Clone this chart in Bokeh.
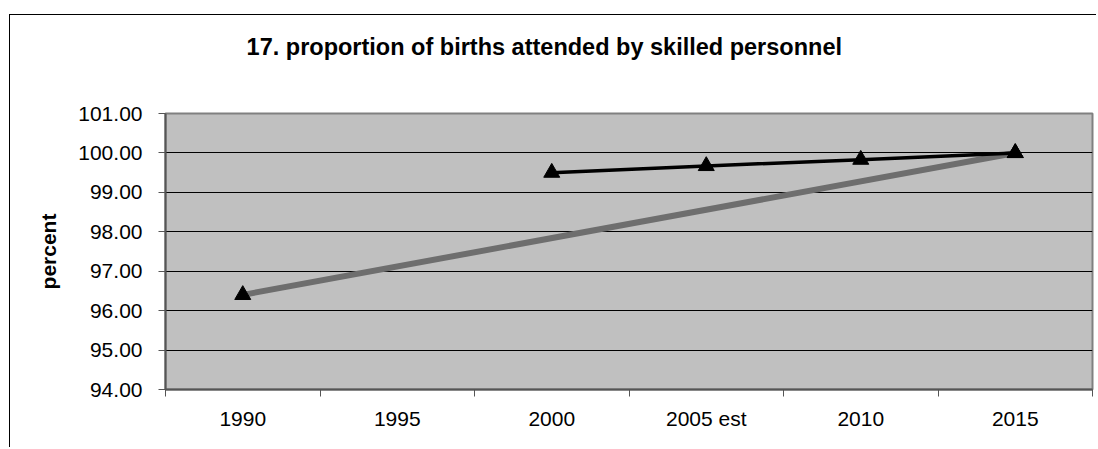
from bokeh.plotting import figure
from bokeh.layouts import column
from bokeh.models import FixedTicker, Range1d
from bokeh.core.properties import value
from bokeh.embed import file_html
from bokeh.resources import INLINE

categories = ["1990", "1995", "2000", "2005 est", "2010", "2015"]
target_years = ["1990", "2015"]
target_values = [96.4, 100.0]
actual_years = ["2000", "2005 est", "2010", "2015"]
actual_values = [99.5, 99.67, 99.83, 100.0]
y_ticks = [94, 95, 96, 97, 98, 99, 100, 101]
title_text = "17. proportion of births attended by skilled personnel"

pos = {c: i + 0.5 for i, c in enumerate(categories)}
tx = [pos[c] for c in target_years]
ax = [pos[c] for c in actual_years]

FONT = "Liberation Sans"
W = 1086

# ---- title strip (pixel-unit ranges) ----
TH = 83
t = figure(width=W, height=TH, output_backend="svg", toolbar_location=None,
           x_range=Range1d(0, W), y_range=Range1d(0, TH),
           x_axis_location=None, y_axis_location=None,
           min_border=0, min_border_left=0, min_border_right=0,
           min_border_top=0, min_border_bottom=0)
t.grid.visible = False
t.outline_line_color = None
t.background_fill_color = "white"
t.text(x=[95], y=[52], text=[title_text], text_font=value(FONT),
       text_font_size="23.5px", text_font_style="bold", text_color="black",
       text_align="left", text_baseline="alphabetic")

# ---- main chart ----
p = figure(width=W, height=349, output_backend="svg", toolbar_location=None,
           x_range=Range1d(0, len(categories)), y_range=Range1d(94, 101),
           min_border_left=155, min_border_right=4, min_border_top=15, min_border_bottom=58)

p.background_fill_color = "#C0C0C0"
p.border_fill_color = "white"
p.outline_line_color = "#808080"
p.outline_line_width = 2

# x axis: labels at category centres, ticks at category boundaries
p.xaxis.ticker = FixedTicker(ticks=[pos[c] for c in categories],
                             minor_ticks=list(range(len(categories) + 1)))
p.xaxis.major_label_overrides = {pos[c]: c for c in categories}
p.xaxis.major_tick_out = 0
p.xaxis.major_tick_in = 0
p.xaxis.minor_tick_out = 7
p.xaxis.minor_tick_in = 0
p.xaxis.minor_tick_line_color = "#555555"
p.xaxis.major_label_standoff = 10
p.xaxis.major_label_text_font = FONT
p.xaxis.major_label_text_font_size = "21px"
p.xaxis.major_label_text_color = "black"
p.xaxis.axis_line_color = "#555555"
p.xaxis.axis_line_width = 2

p.yaxis.ticker = FixedTicker(ticks=y_ticks, minor_ticks=[])
p.yaxis.major_label_overrides = {t_: f"{t_:.2f}" for t_ in y_ticks}
p.yaxis.major_tick_out = 7
p.yaxis.major_tick_in = 0
p.yaxis.major_tick_line_color = "#555555"
p.yaxis.major_label_standoff = 16
p.yaxis.major_label_text_font = FONT
p.yaxis.major_label_text_font_size = "21px"
p.yaxis.major_label_text_color = "black"
p.yaxis.axis_line_color = "#555555"
p.yaxis.axis_line_width = 2
p.yaxis.axis_label = "percent"
p.yaxis.axis_label_text_font = FONT
p.yaxis.axis_label_text_font_size = "21px"
p.yaxis.axis_label_text_font_style = "bold"
p.yaxis.axis_label_text_color = "black"
p.yaxis.axis_label_standoff = 15

p.xgrid.grid_line_color = None
p.ygrid.ticker = FixedTicker(ticks=y_ticks)
p.ygrid.grid_line_color = "black"
p.ygrid.grid_line_width = 1

p.line(tx, target_values, line_color="#6E6E6E", line_width=6)
p.line(ax, actual_values, line_color="black", line_width=3.5)
p.scatter(tx, target_values, marker="triangle", size=16, color="black")
p.scatter(ax, actual_values, marker="triangle", size=16, color="black")

layout = column(t, p, spacing=0, margin=(14, 0, 0, 9))
layout.styles = {"border-top": "1px solid black", "border-left": "1px solid black"}

open("out.html", "w").write(file_html(layout, INLINE))
